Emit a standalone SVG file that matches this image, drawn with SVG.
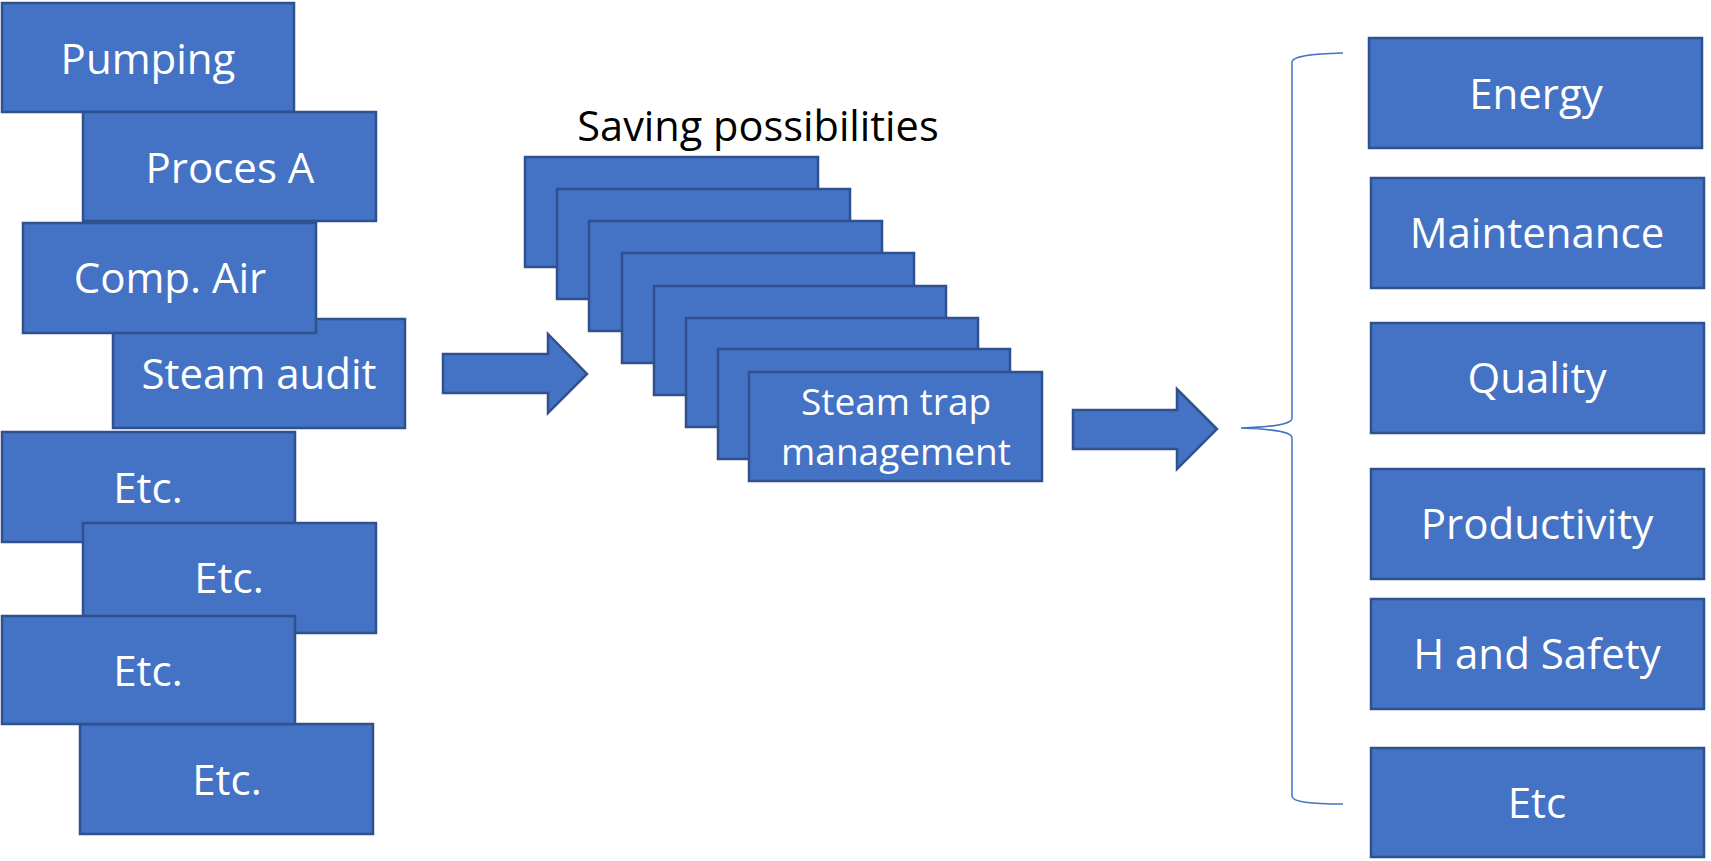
<svg xmlns="http://www.w3.org/2000/svg" width="1711" height="861" viewBox="0 0 1711 861">
<style>
.b{fill:#4472C4;stroke:#2F528F;stroke-width:2.5}
.t{font-family:"Open Sans","Liberation Sans",sans-serif;font-size:42px;fill:#FFFFFF;text-anchor:middle}
.s{font-size:37px}
.h{font-family:"Open Sans","Liberation Sans",sans-serif;font-size:41.5px;fill:#000000;text-anchor:middle}
.br{fill:none;stroke:#4472C4;stroke-width:1.5}
</style>
<rect width="1711" height="861" fill="#FFFFFF"/>
<g id="left">
<g id="pumping"><rect class="b" x="2" y="3" width="292" height="109"/><text class="t" x="148" y="74">Pumping</text></g>
<g id="proces-a"><rect class="b" x="83" y="112" width="293" height="109"/><text class="t" x="230" y="183">Proces A</text></g>
<g id="steam-audit"><rect class="b" x="113" y="319" width="292" height="109"/><text class="t" x="259" y="389">Steam audit</text></g>
<g id="comp-air"><rect class="b" x="23" y="223" width="293" height="110"/><text class="t" x="170" y="293">Comp. Air</text></g>
<g id="etc1"><rect class="b" x="2" y="432" width="293" height="110"/><text class="t" x="148" y="503">Etc.</text></g>
<g id="etc2"><rect class="b" x="83" y="523" width="293" height="110"/><text class="t" x="229" y="593">Etc.</text></g>
<g id="etc4"><rect class="b" x="80" y="724" width="293" height="110"/><text class="t" x="227" y="795">Etc.</text></g>
<g id="etc3"><rect class="b" x="2" y="616" width="293" height="108"/><text class="t" x="148" y="686">Etc.</text></g>
</g>
<g id="saving">
<text class="h" x="758" y="141">Saving possibilities</text>
<g id="sp1"><rect class="b" x="525" y="157" width="293" height="110"/></g>
<g id="sp2"><rect class="b" x="557" y="189" width="293" height="110"/></g>
<g id="sp3"><rect class="b" x="589" y="221" width="293" height="110"/></g>
<g id="sp4"><rect class="b" x="622" y="253" width="292" height="110"/></g>
<g id="sp5"><rect class="b" x="654" y="286" width="292" height="109"/></g>
<g id="sp6"><rect class="b" x="686" y="318" width="292" height="109"/></g>
<g id="sp7"><rect class="b" x="718" y="349" width="292" height="110"/></g>
<g id="sp8"><rect class="b" x="749" y="372" width="293" height="109"/><text class="t s" x="896" y="415">Steam trap</text><text class="t s" x="896" y="465">management</text></g>
</g>
<g id="right">
<g id="energy"><rect class="b" x="1369" y="38" width="333" height="110"/><text class="t" x="1536" y="109">Energy</text></g>
<g id="maintenance"><rect class="b" x="1371" y="178" width="333" height="110"/><text class="t" x="1537" y="248">Maintenance</text></g>
<g id="quality"><rect class="b" x="1371" y="323" width="333" height="110"/><text class="t" x="1537" y="393">Quality</text></g>
<g id="productivity"><rect class="b" x="1371" y="469" width="333" height="110"/><text class="t" x="1537" y="539">Productivity</text></g>
<g id="h-and-safety"><rect class="b" x="1371" y="599" width="333" height="110"/><text class="t" x="1537" y="669">H and Safety</text></g>
<g id="etc"><rect class="b" x="1371" y="748" width="333" height="109"/><text class="t" x="1537" y="818">Etc</text></g>
</g>
<g id="connectors">
<path class="b" d="M443,354 L548,354 L548,334 L587,374 L548,413 L548,393 L443,393 Z"/>
<path class="b" d="M1073,410 L1177,410 L1177,389 L1217,429 L1177,469 L1177,449 L1073,449 Z"/>
<path class="br" d="M1343,53 C1310,54 1292,56 1292,62 L1292,418 C1292,425 1270,427 1241,428 C1270,429 1292,431 1292,438 L1292,796 C1292,802 1310,804 1343,804"/>
</g>
</svg>
